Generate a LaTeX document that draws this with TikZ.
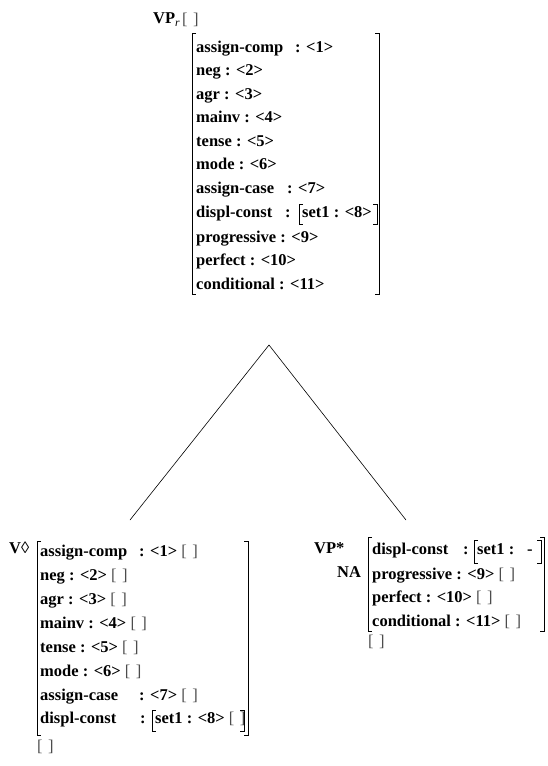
\documentclass[tikz,border=0pt]{standalone}
\usepackage{fontspec}
\setmainfont{Liberation Serif}
\newcommand\fsz{\fontsize{16.5}{19}\selectfont}
\newcommand\eb{{\mdseries\color{black!70}[\,\,]}}
\tikzset{
  t/.style={anchor=base west, inner sep=0pt, font=\fsz\bfseries},
  ebnode/.style={anchor=base west, inner sep=0pt, font=\fsz\mdseries, text=black!70},
  br/.style={line width=0.9pt},
  edge/.style={line width=0.6pt},
}
\begin{document}
\begin{tikzpicture}[x=1pt,y=-1pt]
\useasboundingbox (0,0) rectangle (548,766);
% ---------- top: VP_r ----------
\node[t] (vpr) at (153,23) {VP\raisebox{-3pt}{\fontsize{11.5}{11.5}\selectfont\mdseries\itshape r}};
\node[ebnode] (vpreb) at (182,24) {[\,\,]};
\draw[br] (196,33) -- (192,33) -- (192,294) -- (196,294);
\draw[br] (375,33) -- (379,33) -- (379,294) -- (375,294);
\node[t] (a1) at (196,52) {assign-comp};
\node[t] (a1v) at (295,52) {: <1>};
\node[t] (a2) at (196,75.5) {neg : <2>};
\node[t] (a3) at (196,99) {agr : <3>};
\node[t] (a4) at (196,122.5) {mainv : <4>};
\node[t] (a5) at (196,146) {tense : <5>};
\node[t] (a6) at (196,169.5) {mode : <6>};
\node[t] (a7) at (196,193) {assign-case};
\node[t] (a7v) at (287,193) {: <7>};
\node[t] (a8) at (196,217) {displ-const};
\node[t] (a8v) at (285,217) {:};
\draw[br] (303,204) -- (299,204) -- (299,224) -- (303,224);
\draw[br] (373,204) -- (377,204) -- (377,224) -- (373,224);
\node[t] (a8s) at (302,217) {set1 : <8>};
\node[t] (a9) at (196,242) {progressive : <9>};
\node[t] (a10) at (196,265.5) {perfect : <10>};
\node[t] (a11) at (196,289) {conditional : <11>};
% ---------- tree lines ----------
\coordinate (apex) at (269,345);
\coordinate (lf) at (130,520);
\coordinate (rf) at (406,520);
\draw[edge] (lf) -- (apex) -- (rf);
% ---------- bottom left: V ----------
\node[t] (v) at (9,553) {V{\mdseries ◊}};
\draw[br] (41,541) -- (37,541) -- (37,735) -- (41,735);
\draw[br] (244,541) -- (248,541) -- (248,735) -- (244,735);
\node[t] (b1) at (40,556) {assign-comp};
\node[t] (b1v) at (139,556) {: <1> \eb};
\node[t] (b2) at (40,580) {neg : <2> \eb};
\node[t] (b3) at (40,604) {agr : <3> \eb};
\node[t] (b4) at (40,628) {mainv : <4> \eb};
\node[t] (b5) at (40,652) {tense : <5> \eb};
\node[t] (b6) at (40,676) {mode : <6> \eb};
\node[t] (b7) at (40,700) {assign-case};
\node[t] (b7v) at (139,700) {: <7> \eb};
\node[t] (b8) at (40,723) {displ-const};
\node[t] (b8v) at (140,723) {:};
\draw[br] (156,710) -- (152,710) -- (152,731) -- (156,731);
\draw[br] (240,710) -- (244,710) -- (244,731) -- (240,731);
\node[t] (b8s) at (155,723) {set1 : <8> \eb};
\node[ebnode] (beb) at (37,751) {[\,\,]};
% ---------- bottom right: VP* ----------
\node[t] (vps) at (314,553) {VP*};
\node[t] (na) at (337,577) {NA};
\draw[br] (372,537) -- (368,537) -- (368,631) -- (372,631);
\draw[br] (540,537) -- (544,537) -- (544,631) -- (540,631);
\node[t] (c1) at (372,554) {displ-const};
\node[t] (c1v) at (463,554) {:};
\draw[br] (478,540) -- (474,540) -- (474,563) -- (478,563);
\draw[br] (537,540) -- (541,540) -- (541,563) -- (537,563);
\node[t] (c1s) at (477,554) {set1 :};
\node[t] (c1d) at (527,554) {-};
\node[t] (c2) at (372,579) {progressive : <9> \eb};
\node[t] (c3) at (372,602) {perfect : <10> \eb};
\node[t] (c4) at (372,626) {conditional : <11> \eb};
\node[ebnode] (ceb) at (368,646) {[\,\,]};
\end{tikzpicture}
\end{document}
